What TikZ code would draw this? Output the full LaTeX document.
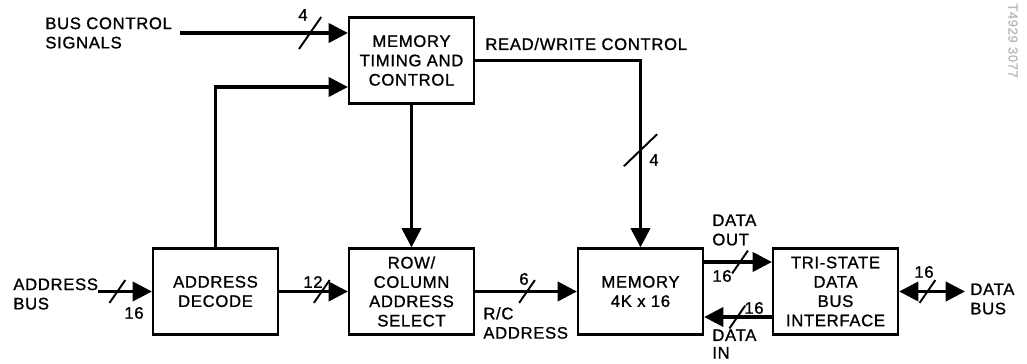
\documentclass[tikz,border=0pt]{standalone}
\usepackage{fontspec}
\newfontfamily\lblfont[LetterSpace=4, FakeBold=1]{Liberation Sans}
\usetikzlibrary{arrows.meta}
\newcommand{\lbl}{\lblfont\fontsize{9.5}{11}\selectfont}
\begin{document}
\begin{tikzpicture}[
    x=0.02cm, y=-0.02cm,
    blk/.style={draw, line width=1.3pt, minimum width=2.5cm, minimum height=1.72cm, align=center, inner sep=1pt, font=\lbl},
    bus/.style={line width=1.8pt, -{Triangle[length=11pt, width=11pt]}},
    bibus/.style={line width=1.8pt, {Triangle[length=11pt, width=11pt]}-{Triangle[length=11pt, width=11pt]}},
    tag/.style={font=\lbl, inner sep=0pt, align=left},
    slash/.pic={\draw[line width=1.1pt] (-4.5pt,-6.5pt) -- (4.5pt,6.5pt);},
  ]
    \useasboundingbox (0,0) rectangle (1027,364);

    % === blocks ===
    \node[blk] (mt) at (411.5,60.5) {MEMORY\\TIMING AND\\CONTROL};
    \node[blk] (ad) at (215.5,291.5) {ADDRESS\\DECODE};
    \node[blk] (rc) at (411.5,291.5) {ROW/\\COLUMN\\ADDRESS\\SELECT};
    \node[blk] (mem) at (640.5,291.5) {MEMORY\\4K x 16};
    \node[blk] (ts) at (835.5,291.5) {TRI-STATE\\DATA\\BUS\\INTERFACE};

    % free ends and tap heights
    \coordinate (bcs) at (180,33);
    \coordinate (ab) at (98,291.5);
    \coordinate (db) at (965,291.5);
    \coordinate (yfb) at (0,87);
    \coordinate (yout) at (0,262);
    \coordinate (yin) at (0,317);

    % === connectors ===
    \draw[bus] (bcs) -- coordinate[pos=.775] (s4a) (mt.west |- bcs);
    \draw[bus] (ad.north) |- (mt.west |- yfb);
    \draw[bus] (mt.south) -- (rc.north);
    \draw[bus] (mt.east) -| coordinate[pos=.74] (s4b) (mem.north);
    \draw[bus] (ab) -- coordinate[pos=.36] (s16a) (ad.west);
    \draw[bus] (ad.east) -- coordinate[pos=.62] (s12) (rc.west);
    \draw[bus] (rc.east) -- coordinate[pos=.51] (s6) (mem.west);
    \draw[bus] (mem.east |- yout) -- coordinate[pos=.53] (s16b) (ts.west |- yout);
    \draw[bus] (ts.west |- yin) -- coordinate[pos=.51] (s16c) (mem.east |- yin);
    \draw[bibus] (ts.east) -- coordinate[pos=.43] (s16d) (db);

    % bus width marks
    \pic[scale=1.4] at (s4a) {slash};
    \pic[xscale=2.1, yscale=1.4] at (s4b) {slash};
    \pic at (s16a) {slash};
    \pic at (s12) {slash};
    \pic at (s6) {slash};
    \pic at (s16b) {slash};
    \pic at (s16c) {slash};
    \pic at (s16d) {slash};

    \node[tag] (w4a) at (303,15) {4};
    \node[tag] (w4b) at (654,160) {4};
    \node[tag] (w16a) at (134,313) {16};
    \node[tag] (w12) at (313,282) {12};
    \node[tag] (w6) at (524,279) {6};
    \node[tag] (w16b) at (722,276) {16};
    \node[tag] (w16c) at (754,308) {16};
    \node[tag] (w16d) at (924,272) {16};

    % === signal names ===
    \node[tag, anchor=west] (bcsl) at (45,33) {BUS CONTROL\\SIGNALS};
    \node[tag, anchor=west] (rwl) at (485,44) {READ/WRITE CONTROL};
    \node[tag, anchor=west] (abl) at (13,294) {ADDRESS\\BUS};
    \node[tag, anchor=west] (rcl) at (483,323) {R/C\\ADDRESS};
    \node[tag, anchor=west] (dol) at (712,230) {DATA\\OUT};
    \node[tag, anchor=west, font=\lblfont\fontsize{9.5}{10}\selectfont] (dil) at (712,344) {DATA\\IN};
    \node[tag, anchor=west] (dbl) at (970,299) {DATA\\BUS};

    \node[rotate=-90, anchor=west, inner sep=0pt, text=gray!55, font=\lblfont\fontsize{7.5}{8}\selectfont] (stamp) at (1013,3) {T4929 3077};
  \end{tikzpicture}
\end{document}
